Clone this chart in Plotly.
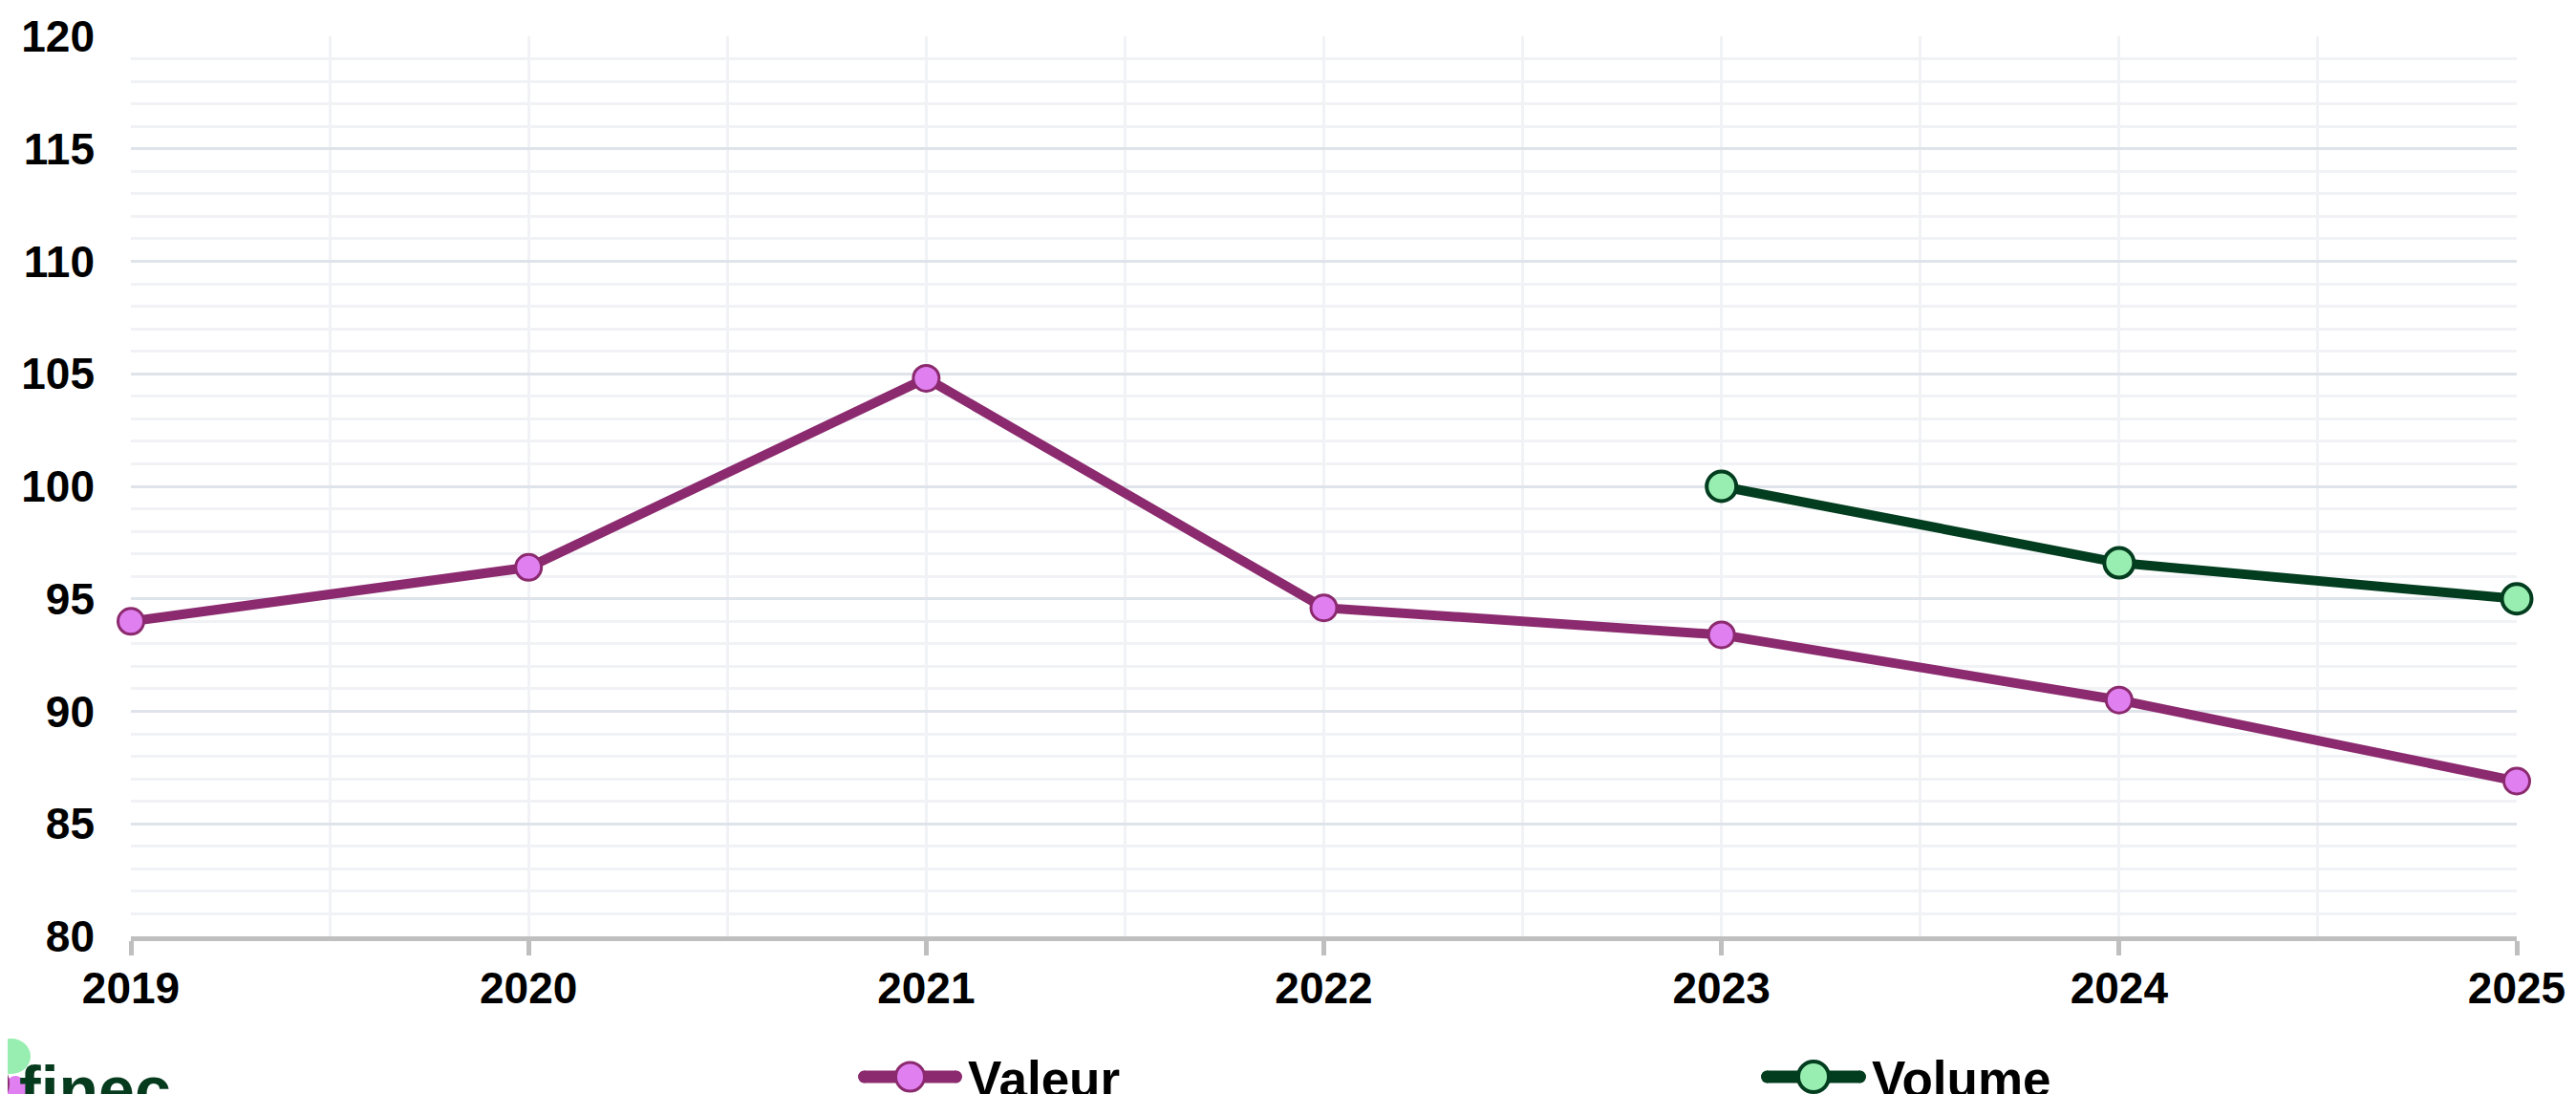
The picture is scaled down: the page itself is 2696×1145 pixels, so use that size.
import plotly.graph_objects as go

years = [2019, 2020, 2021, 2022, 2023, 2024, 2025]
valeur = [94.0, 96.4, 104.8, 94.6, 93.4, 90.5, 86.9]
volume_years = [2023, 2024, 2025]
volume = [100.0, 96.6, 95.0]
series_names = ["Valeur", "Volume"]

# Page body has an 8px default margin, so figure coords = screen coords - 8
OFF = 8
W, H = 2696, 1145
L, T = 137 - OFF, 38 - OFF
R = W - (2634 - OFF)
B = H - (980 - OFF)
pw = W - L - R
ph = H - T - B

def px(sx):
    return (sx - OFF - L) / pw

def py(sy):
    return (H - B - (sy - OFF)) / ph

FONT = "Liberation Sans, Arial, sans-serif"
VAL_LINE, VAL_FILL = "#8B2A6E", "#E07FF0"
VOL_LINE, VOL_FILL = "#033D1F", "#98EDB0"

fig = go.Figure()
fig.add_trace(go.Scatter(
    x=years, y=valeur, name=series_names[0], mode="lines+markers",
    line=dict(color=VAL_LINE, width=10),
    marker=dict(size=27, color=VAL_FILL, line=dict(color=VAL_LINE, width=3)),
    cliponaxis=False, showlegend=False,
))
fig.add_trace(go.Scatter(
    x=volume_years, y=volume, name=series_names[1], mode="lines+markers",
    line=dict(color=VOL_LINE, width=10),
    marker=dict(size=31, color=VOL_FILL, line=dict(color=VOL_LINE, width=4)),
    cliponaxis=False, showlegend=False,
))

fig.update_layout(
    width=W, height=H,
    margin=dict(l=L, r=R, t=T, b=B, autoexpand=False),
    paper_bgcolor="white", plot_bgcolor="white",
    font=dict(family=FONT, size=46, color="black"),
    showlegend=False,
    xaxis=dict(
        range=[2019, 2025], tickmode="array", tickvals=years,
        ticktext=[str(y) for y in years],
        showgrid=True, gridcolor="#F1F2F5", gridwidth=3,
        minor=dict(dtick=0.5, tick0=2019, showgrid=True, gridcolor="#F1F2F5", gridwidth=3),
        showline=True, linecolor="#BFBFBF", linewidth=5,
        ticks="outside", ticklen=15, tickwidth=5, tickcolor="#BFBFBF",
        tickfont=dict(family=FONT, size=46, color="black", weight="bold"),
        ticklabelstandoff=-5, zeroline=False, automargin=False,
    ),
    yaxis=dict(
        range=[80, 120], tickmode="linear", tick0=80, dtick=5,
        showgrid=True, gridcolor="#DFE3EA", gridwidth=3,
        minor=dict(dtick=1, tick0=80, showgrid=True, gridcolor="#F1F2F5", gridwidth=3),
        showline=False, ticks="", zeroline=False,
        tickfont=dict(family=FONT, size=46, color="black", weight="bold"),
        ticklabelstandoff=37, automargin=False,
    ),
)

# Legend drawn at the bottom (line + marker symbol, then label)
legend_items = [
    (series_names[0], VAL_LINE, VAL_FILL, 898, 1007, 15, 3),
    (series_names[1], VOL_LINE, VOL_FILL, 1843, 1953, 16, 4),
]
ly = 1127
for name, lc, fc, x0, x1, r, bw in legend_items:
    fig.add_shape(type="line", xref="paper", yref="paper",
                  x0=px(x0 + 6), x1=px(x1 - 6), y0=py(ly), y1=py(ly),
                  line=dict(color=lc, width=13))
    fig.add_shape(type="circle", xref="paper", yref="paper",
                  x0=px(x0), x1=px(x0 + 12), y0=py(ly + 6.5), y1=py(ly - 6.5),
                  fillcolor=lc, line=dict(width=0))
    fig.add_shape(type="circle", xref="paper", yref="paper",
                  x0=px(x1 - 12), x1=px(x1), y0=py(ly + 6.5), y1=py(ly - 6.5),
                  fillcolor=lc, line=dict(width=0))
    cx = (x0 + x1) / 2
    fig.add_shape(type="circle", xref="paper", yref="paper",
                  x0=px(cx - r), x1=px(cx + r), y0=py(ly + r), y1=py(ly - r),
                  fillcolor=fc, line=dict(color=lc, width=bw))
    fig.add_annotation(text=f"<b>{name}</b>", xref="paper", yref="paper",
                       x=px(x1 + 4), y=py(ly + 2), xanchor="left", yanchor="middle",
                       showarrow=False,
                       font=dict(family=FONT, size=53, color="black"))

# Logo (partially cut off at the bottom edge)
fig.add_shape(type="circle", xref="paper", yref="paper",
              x0=px(-8), x1=px(32), y0=py(1124), y1=py(1087),
              fillcolor="#98EDB0", line=dict(width=0))
fig.add_shape(type="circle", xref="paper", yref="paper",
              x0=px(4), x1=px(28), y0=py(1162), y1=py(1126),
              fillcolor="#E07FF0", line=dict(width=0))
fig.add_shape(type="circle", xref="paper", yref="paper",
              x0=px(-14), x1=px(10), y0=py(1152), y1=py(1116),
              fillcolor="#8B2A6E", line=dict(width=0))
fig.add_annotation(text="<b>finec</b>", xref="paper", yref="paper",
                   x=px(18), y=py(1100), xanchor="left", yanchor="top",
                   showarrow=False,
                   font=dict(family=FONT, size=68, color="#063B1E"))

fig.write_html("out.html")
